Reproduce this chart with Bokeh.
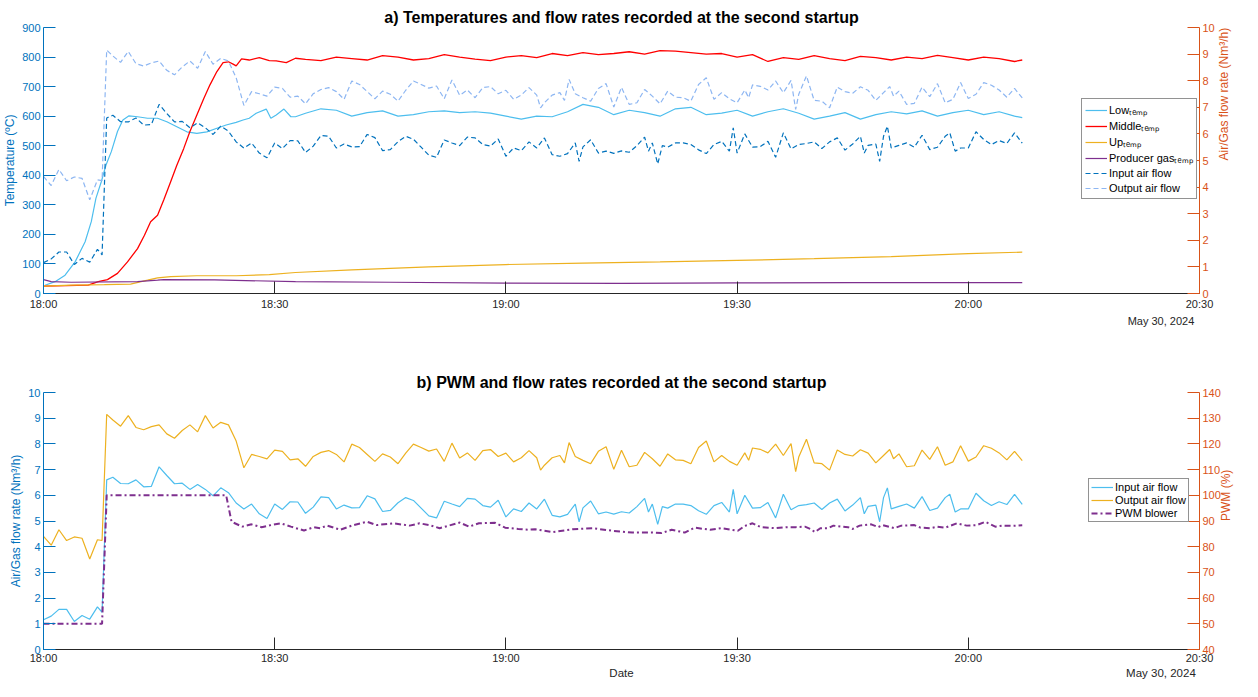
import math
from bokeh.plotting import figure
from bokeh.models import Range1d, LinearAxis, Legend, LegendItem, FixedTicker
from bokeh.layouts import column
from bokeh.embed import file_html
from bokeh.resources import INLINE

# ---------------- data ----------------
tick_minutes = [0, 30, 60, 90, 120, 150]          # minutes after 18:00
tick_labels = ["18:00", "18:30", "19:00", "19:30", "20:00", "20:30"]
date_text = "May 30, 2024"
x_title = "Date"

temp_ticks = list(range(0, 901, 100))
flow_ticks = list(range(0, 11))
pwm_ticks = list(range(40, 141, 10))

# Temperatures (minutes after 18:00, degC)
low_t = [0.2, 1.5, 2.8, 4.1, 5.4, 6.2, 6.8, 7.5, 8.1, 8.8, 9.6, 10.3, 11.1, 12.2, 13.5, 14.8, 16.0, 17.3,
         18.6, 19.9, 21.2, 22.5, 23.7, 25.0, 25.9, 26.7, 27.6, 28.9, 29.5, 30.2, 31.2, 32.1, 32.7,
         34, 36, 38, 40, 42, 44, 46, 48, 50, 52, 54, 56, 58, 60, 62, 64, 66, 68, 70, 72, 74, 76, 78, 80,
         82, 84, 86, 88, 90, 92, 94, 96, 98, 100, 102, 104, 106, 108, 110, 112, 114, 116, 118, 120, 122,
         124, 126, 127]
low_temp = [28, 40, 62, 107, 175, 243, 322, 378, 434, 480, 548, 587, 601, 598, 593, 593, 581, 564,
            547, 542, 547, 559, 570, 579, 587, 593, 610, 624, 593, 604, 624, 598, 598,
            610, 625, 620, 600, 612, 618, 600, 605, 615, 618, 612, 615, 610, 600, 590, 600, 598, 615,
            640, 630, 605, 620, 612, 600, 625, 630, 605, 610, 620, 600, 615, 625, 610, 590, 600, 612,
            590, 605, 615, 608, 618, 600, 612, 620, 605, 615, 600, 595]

mid_t = [0, 5.8, 7.1, 8.3, 9.6, 10.9, 12.2, 13.1, 13.9, 14.8, 15.6, 16.5, 17.3, 18.2, 19.0, 19.9, 20.8,
         21.6, 22.5, 23.3, 24.0, 24.6, 25.0, 25.7, 26.7, 28.0, 29.3, 30.2, 31.5, 32.7,
         34, 36, 38, 40, 42, 44, 46, 48, 50, 52, 54, 56, 58, 60, 62, 64, 66, 68, 70, 72, 74, 76, 78, 80,
         82, 84, 86, 88, 90, 92, 94, 96, 98, 100, 102, 104, 106, 108, 110, 112, 114, 116, 118, 120, 122,
         124, 126, 127]
mid_temp = [25, 28, 40, 47, 68, 107, 152, 197, 243, 265, 316, 378, 434, 491, 548, 604, 660,
            706, 751, 781, 784, 776, 770, 794, 790, 798, 788, 787, 781, 796,
            792, 788, 800, 795, 790, 805, 800, 790, 795, 808, 800, 793, 788, 800, 805, 798, 812, 805, 815,
            808, 812, 818, 810, 822, 820, 815, 810, 812, 800, 808, 785, 798, 792, 805, 795, 788, 802, 798,
            790, 800, 795, 806, 798, 790, 800, 795, 785, 790]

up_t = [0, 3.6, 7.9, 11.3, 13.5, 14.8, 16.5, 19.9, 25.0, 29.3, 32.7, 40, 50, 60, 70, 80, 90, 100, 110, 120, 127]
up_temp = [25, 28, 30, 32, 45, 53, 57, 60, 60, 64, 71, 80, 90, 98, 103, 107, 112, 118, 125, 135, 140]

gas_t = [0, 1, 3.6, 12.2, 14.8, 15.6, 22.2, 32.7, 45, 60, 75, 90, 105, 127]
gas_temp = [47, 40, 38, 40, 45, 47, 46, 40, 38, 35, 34, 36, 37, 37]

# Flow rates (Nm3/h)
in_t = [0, 1, 2, 3, 4, 5, 6, 7, 7.6, 8.2, 9, 10, 11, 12, 13, 14, 15, 16, 17, 18, 19, 20, 21, 22, 23, 24,
        25, 26, 27, 28, 29, 30, 31, 32, 33, 34, 35, 36, 37, 38, 39, 40, 41, 42, 43, 44, 45, 46, 47, 48,
        49, 50, 51, 52, 53, 54, 55, 56, 57, 58, 59, 60, 61, 62, 63, 64, 65, 66, 67, 68, 69, 69.5, 70, 71,
        72, 73, 74, 75, 76, 77, 78, 78.5, 79, 79.7, 80.3, 81, 82, 83, 84, 85, 86, 87, 88, 89, 89.5, 90,
        91, 92, 93, 94, 95, 96, 97, 98, 99, 100, 101, 102, 103, 104, 105, 106, 106.5, 107, 108, 108.5,
        109, 109.5, 110, 111, 112, 113, 114, 115, 116, 117, 117.6, 118.3, 119, 120, 121, 122, 123, 124,
        125, 126, 127]
input_flow = [1.16, 1.30, 1.56, 1.56, 1.09, 1.32, 1.18, 1.66, 1.45, 6.60, 6.70, 6.46, 6.45, 6.60, 6.33,
              6.35, 7.11, 6.77, 6.45, 6.47, 6.23, 6.42, 6.23, 5.98, 6.29, 6.10, 5.70, 5.47, 5.66, 5.28,
              5.10, 5.66, 5.45, 5.75, 5.74, 5.30, 5.54, 5.94, 5.91, 5.47, 5.62, 5.51, 5.52, 5.98, 5.86,
              5.37, 5.41, 5.71, 5.91, 5.80, 5.50, 5.20, 5.12, 5.77, 5.66, 5.56, 5.88, 5.85, 5.60, 5.54,
              5.81, 5.16, 5.47, 5.37, 5.70, 5.47, 5.85, 5.22, 5.16, 5.26, 5.66, 4.97, 5.51, 5.78, 5.28,
              5.35, 5.27, 5.36, 5.31, 5.56, 5.88, 5.35, 5.66, 4.87, 5.56, 5.50, 5.66, 5.66, 5.60, 5.40,
              5.26, 5.60, 5.72, 5.35, 6.23, 5.28, 6.00, 5.50, 5.52, 5.72, 5.12, 6.04, 5.44, 5.60, 5.64,
              5.70, 5.45, 5.70, 5.85, 5.39, 5.62, 5.91, 5.28, 5.57, 5.62, 4.97, 5.91, 6.29, 5.47, 5.57,
              5.66, 5.50, 5.95, 5.41, 5.50, 5.91, 6.04, 5.35, 5.47, 5.47, 6.08, 5.79, 5.60, 5.75, 5.64,
              6.04, 5.65]

out_t = [0, 1, 2, 3, 4, 5, 6, 7, 7.6, 8.2, 9, 10, 11, 12, 13, 14, 15, 16, 17, 18, 19, 20, 21, 22, 23, 24,
         25, 26, 27, 28, 29, 30, 31, 32, 33, 34, 35, 36, 37, 38, 39, 40, 41, 42, 43, 44, 45, 46, 47, 48,
         49, 50, 51, 52, 53, 54, 55, 56, 57, 58, 59, 60, 61, 62, 63, 64, 64.5, 65, 66, 67, 67.6, 68.2, 69,
         70, 71, 72, 73, 74, 75, 76, 77, 78, 79, 80, 81, 82, 83, 84, 85, 86, 87, 88, 89, 90, 91, 91.5,
         92, 93, 94, 95, 96, 97, 97.6, 98, 99, 100, 101, 102, 103, 104, 105, 106, 107, 108, 109, 109.8,
         110.3, 111, 112, 113, 114, 115, 116, 117, 118, 119, 120, 121, 122, 123, 124, 125, 126, 127]
output_flow = [4.40, 4.06, 4.66, 4.24, 4.38, 4.33, 3.52, 4.27, 4.24, 9.15, 8.93, 8.69, 9.10, 8.64, 8.55,
               8.67, 8.74, 8.39, 8.22, 8.52, 8.74, 8.47, 9.10, 8.62, 8.84, 8.74, 8.11, 7.07, 7.59, 7.51,
               7.42, 7.76, 7.71, 7.38, 7.42, 7.13, 7.51, 7.67, 7.74, 7.59, 7.30, 7.99, 7.86, 7.59, 7.32,
               7.61, 7.49, 7.23, 7.64, 7.99, 7.86, 7.72, 7.80, 7.32, 8.03, 7.45, 7.65, 7.36, 7.74, 7.78,
               7.51, 7.64, 7.30, 7.46, 7.74, 7.46, 6.98, 7.17, 7.46, 7.55, 7.26, 8.05, 7.51, 7.36, 7.23,
               7.71, 7.89, 7.01, 7.75, 7.11, 7.17, 7.67, 7.42, 7.13, 7.61, 7.38, 7.36, 7.23, 7.86, 8.11,
               7.30, 7.55, 7.32, 7.17, 7.65, 7.36, 7.84, 7.79, 7.65, 7.99, 7.55, 8.01, 6.92, 7.49, 8.18,
               7.26, 7.23, 6.98, 7.76, 7.59, 7.53, 7.77, 7.64, 7.26, 7.55, 7.78, 7.42, 7.61, 7.11, 7.15,
               7.76, 7.40, 7.89, 7.17, 7.30, 7.93, 7.33, 7.49, 7.93, 7.83, 7.65, 7.38, 7.71, 7.35]

# PWM blower (%)
pwm_t = [0, 7.6, 8.2, 23.7, 24.4, 25.8, 27.0, 28.3, 29.5, 30.8, 32.1, 33.8, 35.1, 35.9, 36.8, 38.5, 40.2,
         42.0, 43.2, 45.4, 47.5, 48.8, 50.1, 51.4, 54.0, 55.2, 56.5, 58.6, 59.9, 61.6, 62.9, 63.8, 66.1,
         68.7, 71.2, 73.8, 76.4, 79.0, 80.2, 81.5, 83.2, 84.5, 86.5, 87.9, 90.1, 91.0, 92.0, 93.1, 95.0,
         96.3, 97.6, 98.8, 99.5, 100.1, 100.8, 101.8, 102.5, 103.5, 104.4, 105.0, 105.9, 107.4, 108.3,
         108.9, 110.4, 111.3, 113.0, 113.8, 115.1, 116.0, 117.0, 118.5, 119.8, 121.1, 122.2, 123.5,
         124.5, 125.8, 127]
pwm = [50, 50, 100, 100, 89.7, 87.8, 88.7, 87.6, 88.4, 89.1, 87.8, 86.3, 87.6, 87.2, 88.2, 86.6, 88.4,
       89.7, 88.4, 89.1, 88.2, 89.1, 88.4, 87.2, 89.4, 87.8, 89.1, 89.3, 87.4, 86.9, 86.6, 86.8, 85.7,
       86.8, 87.2, 86.2, 85.5, 85.5, 85.3, 86.6, 85.5, 87.4, 86.6, 87.2, 86.2, 88.1, 89.1, 87.6, 87.2,
       87.6, 87.6, 87.8, 86.9, 85.7, 87.2, 87.2, 88.2, 87.8, 87.6, 86.9, 88.2, 88.7, 87.6,
       88.4, 87.2, 88.2, 88.4, 87.4, 87.2, 87.8, 87.4, 89.1, 88.2, 88.4, 89.7, 87.8,
       88.2, 88.1, 88.3]

# ---------------- style ----------------
FONT = "Liberation Sans"
LEFT_C = "#0072BD"
RIGHT_C = "#D95319"
DARK = "#262626"
W = 1242


def style_axis(ax, color, ticks, label=None, overrides=None, standoff=3, label_standoff=2):
    ax.ticker = FixedTicker(ticks=ticks)
    if overrides:
        ax.major_label_overrides = overrides
    ax.axis_line_color = color
    ax.major_tick_line_color = color
    ax.minor_tick_line_color = None
    ax.major_tick_in = 12
    ax.major_tick_out = 0
    ax.major_label_text_color = color
    ax.major_label_text_font = FONT
    ax.major_label_text_font_size = "11px"
    ax.major_label_standoff = standoff
    if label:
        ax.axis_label = label
        ax.axis_label_text_color = color
        ax.axis_label_text_font = FONT
        ax.axis_label_text_font_size = "12px"
        ax.axis_label_text_font_style = "normal"
        ax.axis_label_standoff = label_standoff


def text_axis(ticks, overrides, size, standoff):
    # an extra axis used only to write texts under the time axis
    ax = LinearAxis(ticker=FixedTicker(ticks=ticks), major_label_overrides=overrides)
    ax.axis_line_color = None
    ax.major_tick_line_color = None
    ax.minor_tick_line_color = None
    ax.major_tick_in = 0
    ax.major_tick_out = 0
    ax.major_label_standoff = standoff
    ax.major_label_text_font = FONT
    ax.major_label_text_font_size = size
    ax.major_label_text_color = DARK
    return ax


def base_fig(height, title, y0, y1, top, bottom):
    p = figure(width=W, height=height, output_backend="svg", toolbar_location=None,
               x_range=Range1d(0, 150), y_range=Range1d(y0, y1),
               min_border_left=38, min_border_right=38, min_border_top=top, min_border_bottom=bottom,
               title=title)
    p.outline_line_color = None
    p.xgrid.visible = False
    p.ygrid.visible = False
    p.title.align = "center"
    p.title.text_font = FONT
    p.title.text_font_size = "16px"
    p.title.text_font_style = "bold"
    p.title.text_color = "#000000"
    p.title.standoff = 3
    return p


def legend_style(lg, row_h, spacing, padding):
    lg.label_text_font = FONT
    lg.label_text_font_size = "11px"
    lg.label_text_color = "#000000"
    lg.label_height = row_h
    lg.glyph_height = row_h
    lg.glyph_width = 22
    lg.label_standoff = 2
    lg.spacing = spacing
    lg.padding = padding
    lg.margin = 0
    lg.border_line_color = DARK
    lg.border_line_width = 1
    lg.background_fill_color = "white"
    lg.background_fill_alpha = 1.0


def right_label_upward(ax):
    try:
        ax.axis_label_orientation = math.pi / 2
    except Exception:
        pass


x_over = {m: s for m, s in zip(tick_minutes, tick_labels)}

# ---------------- figure a ----------------
p1 = base_fig(331, "a) Temperatures and flow rates recorded at the second startup", 0, 900, 27, 38)
p1.extra_y_ranges = {"flow": Range1d(0, 10)}
p1.add_layout(LinearAxis(y_range_name="flow"), "right")
style_axis(p1.xaxis[0], DARK, tick_minutes, overrides=x_over, standoff=4)
style_axis(p1.yaxis[0], LEFT_C, temp_ticks, "Temperature (ºC)")
style_axis(p1.yaxis[1], RIGHT_C, flow_ticks, "Air/Gas flow rate (Nm³/h)", label_standoff=6)
right_label_upward(p1.yaxis[1])
p1.add_layout(text_axis([145], {145: date_text}, "11px", 2), "below")

r_low = p1.line(low_t, low_temp, color="#4DBEEE", line_width=1.2)
r_mid = p1.line(mid_t, mid_temp, color="#FF0000", line_width=1.3)
r_up = p1.line(up_t, up_temp, color="#EDB120", line_width=1.2)
r_gas = p1.line(gas_t, gas_temp, color="#7E2F8E", line_width=1.2)
r_in1 = p1.line(in_t, input_flow, y_range_name="flow", color="#0072BD", line_width=1.2, line_dash="5 3")
r_out1 = p1.line(out_t, output_flow, y_range_name="flow", color="#8DB6F2", line_width=1.2, line_dash="5 3")

lg1 = Legend(items=[
    LegendItem(label="Lowₜₑₘₚ", renderers=[r_low]),
    LegendItem(label="Middleₜₑₘₚ", renderers=[r_mid]),
    LegendItem(label="Upₜₑₘₚ", renderers=[r_up]),
    LegendItem(label="Producer gasₜₑₘₚ", renderers=[r_gas]),
    LegendItem(label="Input air flow", renderers=[r_in1]),
    LegendItem(label="Output air flow", renderers=[r_out1]),
], location=(1038, 94))
legend_style(lg1, 14, 1, 3)
p1.add_layout(lg1)

# ---------------- figure b ----------------
p2 = base_fig(350, "b) PWM and flow rates recorded at the second startup", 0, 10, 61, 32)
p2.extra_y_ranges = {"pwm": Range1d(40, 140)}
p2.add_layout(LinearAxis(y_range_name="pwm"), "right")
style_axis(p2.xaxis[0], DARK, tick_minutes, overrides=x_over, standoff=2)
style_axis(p2.yaxis[0], LEFT_C, flow_ticks, "Air/Gas flow rate (Nm³/h)")
style_axis(p2.yaxis[1], RIGHT_C, pwm_ticks, "PWM (%)", label_standoff=2)
right_label_upward(p2.yaxis[1])
p2.add_layout(text_axis([75, 145], {75: x_title, 145: date_text}, "11.5px", 0), "below")

r_in2 = p2.line(in_t, input_flow, color="#4DBEEE", line_width=1.2)
r_out2 = p2.line(out_t, output_flow, color="#EDB120", line_width=1.2)
r_pwm = p2.line(pwm_t, pwm, y_range_name="pwm", color="#7E2F8E", line_width=2, line_dash="6 3 2 3")

lg2 = Legend(items=[
    LegendItem(label="Input air flow", renderers=[r_in2]),
    LegendItem(label="Output air flow", renderers=[r_out2]),
    LegendItem(label="PWM blower", renderers=[r_pwm]),
], location=(1045, 127))
legend_style(lg2, 12, 1, 2)
p2.add_layout(lg2)

layout = column(p1, p2)
open("out.html", "w").write(file_html(layout, INLINE))
